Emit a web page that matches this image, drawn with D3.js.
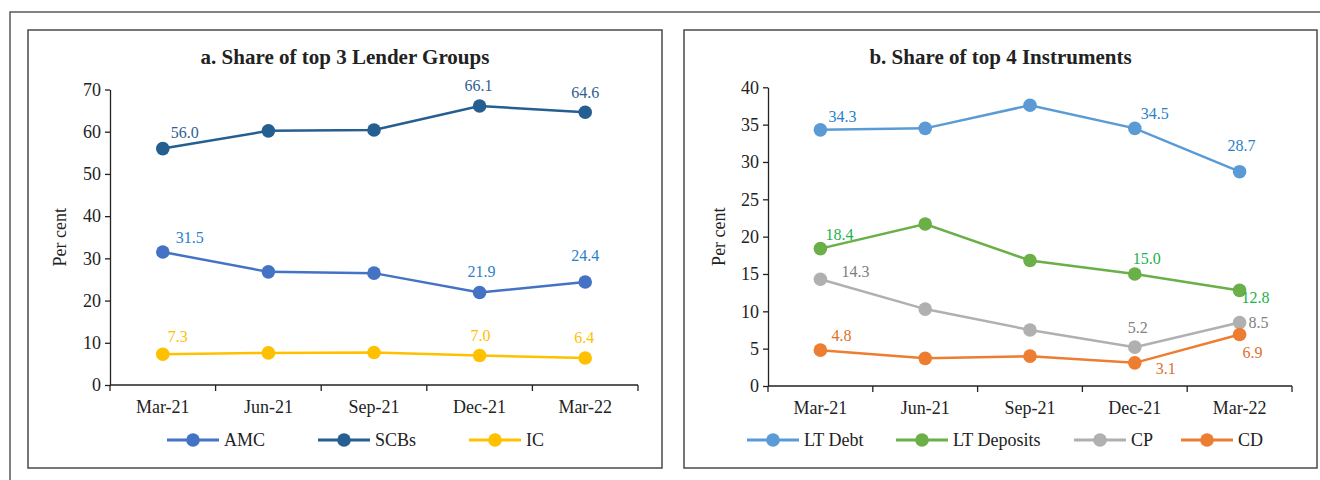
<!DOCTYPE html>
<html>
<head>
<meta charset="utf-8">
<script src="https://cdn.jsdelivr.net/npm/d3@7"></script>
<style>
  html, body { margin: 0; padding: 0; background: #fff; }
  svg { display: block; }
  text { font-family: "Liberation Serif", "Times New Roman", serif; }
</style>
</head>
<body>
<svg id="chart" width="1320" height="480"></svg>
<script>
// Quarter-end periods shared by both panels
const periods = ["Mar-21", "Jun-21", "Sep-21", "Dec-21", "Mar-22"];

// Panel a: share of top 3 lender groups (per cent)
const amc = [31.5, 26.8, 26.5, 21.9, 24.4];
const scbs = [56.0, 60.2, 60.4, 66.1, 64.6];
const ic = [7.3, 7.6, 7.7, 7.0, 6.4];
const ticksA = [0, 10, 20, 30, 40, 50, 60, 70];

// Panel b: share of top 4 instruments (per cent)
const ltDebt = [34.3, 34.5, 37.6, 34.5, 28.7];
const ltDeposits = [18.4, 21.7, 16.8, 15.0, 12.8];
const cp = [14.3, 10.3, 7.5, 5.2, 8.5];
const cd = [4.8, 3.7, 4.0, 3.1, 6.9];
const ticksB = [0, 5, 10, 15, 20, 25, 30, 35, 40];

// Points that carry a value label
const labelled = [0, 3, 4];

const svg = d3.select("#chart");

// Outer frame (runs off the right and bottom edges)
svg.append("path")
  .attr("d", "M10,480 L10,12 L1320,12")
  .attr("fill", "none").attr("stroke", "#5a5a5a").attr("stroke-width", 1.5);

function drawPanel(cfg) {
  const g = svg.append("g");

  g.append("rect")
    .attr("x", cfg.box[0]).attr("y", cfg.box[1])
    .attr("width", cfg.box[2] - cfg.box[0]).attr("height", cfg.box[3] - cfg.box[1])
    .attr("fill", "none").attr("stroke", "#4a4a4a").attr("stroke-width", 1.5);

  g.append("text")
    .attr("x", (cfg.box[0] + cfg.box[2]) / 2).attr("y", 64)
    .attr("text-anchor", "middle")
    .attr("font-size", 21).attr("font-weight", "bold").attr("fill", "#222")
    .text(cfg.title);

  const x = d3.scaleBand().domain(periods).range([cfg.left, cfg.right]).padding(0);
  const y = d3.scaleLinear().domain([0, cfg.ticks[cfg.ticks.length - 1]]).range([cfg.bottom, cfg.top]);
  const cx = d => x(d) + x.bandwidth() / 2;

  // y axis
  const ya = g.append("g").attr("transform", `translate(${cfg.left},0)`)
    .call(d3.axisLeft(y).tickValues(cfg.ticks).tickSize(5).tickPadding(4).tickSizeOuter(0));
  ya.selectAll("text").attr("font-size", 18).attr("fill", "#222")
    .attr("font-family", "'Liberation Serif', serif");
  ya.selectAll("line,path").attr("stroke", "#222").attr("stroke-width", 1.3);

  // x axis: ticks at category boundaries, labels at centres
  const xa = g.append("g").attr("transform", `translate(0,${cfg.bottom})`);
  xa.append("line").attr("x1", cfg.left).attr("x2", cfg.right)
    .attr("stroke", "#222").attr("stroke-width", 1.3);
  const edges = periods.map(p => x(p)).concat([cfg.right]);
  xa.selectAll("line.tick").data(edges).join("line").attr("class", "tick")
    .attr("x1", d => d).attr("x2", d => d).attr("y1", 0).attr("y2", 6)
    .attr("stroke", "#222").attr("stroke-width", 1.3);
  xa.selectAll("text").data(periods).join("text")
    .attr("x", d => cx(d)).attr("y", 28)
    .attr("text-anchor", "middle").attr("font-size", 18).attr("fill", "#222")
    .text(d => d);

  // y title
  g.append("text")
    .attr("transform", `translate(${cfg.yTitleX},${(cfg.top + cfg.bottom) / 2}) rotate(-90)`)
    .attr("text-anchor", "middle").attr("dominant-baseline", "central")
    .attr("font-size", 18).attr("fill", "#222")
    .text("Per cent");

  const line = d3.line().x((d, i) => cx(periods[i])).y(d => y(d));

  cfg.series.forEach(s => {
    g.append("path").datum(s.values)
      .attr("d", line).attr("fill", "none")
      .attr("stroke", s.color).attr("stroke-width", 2.5);
    g.selectAll(null).data(s.values).join("circle")
      .attr("cx", (d, i) => cx(periods[i])).attr("cy", d => y(d))
      .attr("r", 6.8).attr("fill", s.color);
    labelled.forEach((idx, k) => {
      const v = s.values[idx];
      g.append("text")
        .attr("x", cx(periods[idx]) + s.offsets[k][0])
        .attr("y", y(v) + s.offsets[k][1])
        .attr("text-anchor", "middle").attr("font-size", 16)
        .attr("fill", s.labelColor)
        .text(v.toFixed(1));
    });
  });

  // legend
  cfg.series.forEach((s, i) => {
    const lx = cfg.legendX[i];
    const ly = 440;
    g.append("line").attr("x1", lx).attr("x2", lx + 52).attr("y1", ly).attr("y2", ly)
      .attr("stroke", s.color).attr("stroke-width", 3);
    g.append("circle").attr("cx", lx + 26).attr("cy", ly).attr("r", 6.8).attr("fill", s.color);
    g.append("text").attr("x", lx + 57).attr("y", ly).attr("dominant-baseline", "central")
      .attr("font-size", 18).attr("fill", "#222").text(s.name);
  });
}

drawPanel({
  title: "a. Share of top 3 Lender Groups",
  box: [28, 30, 662, 468],
  left: 110, right: 638, top: 89.5, bottom: 385,
  ticks: ticksA, yTitleX: 60,
  legendX: [167, 318, 469],
  series: [
    { name: "AMC", values: amc, color: "#4472C4", labelColor: "#2a7fc9",
      offsets: [[27, -9], [2, -16], [0, -21]] },
    { name: "SCBs", values: scbs, color: "#255E91", labelColor: "#2f5f92",
      offsets: [[22, -11], [-1, -15], [0, -14]] },
    { name: "IC", values: ic, color: "#FFC000", labelColor: "#FFC000",
      offsets: [[15, -12], [1, -14], [-1, -15]] }
  ]
});

drawPanel({
  title: "b. Share of top 4 Instruments",
  box: [684, 30, 1317, 468],
  left: 768, right: 1292, top: 87.3, bottom: 386,
  ticks: ticksB, yTitleX: 719,
  legendX: [747, 896, 1074, 1181],
  series: [
    { name: "LT Debt", values: ltDebt, color: "#5B9BD5", labelColor: "#2a7fc9",
      offsets: [[22, -8], [20, -9], [2, -21]] },
    { name: "LT Deposits", values: ltDeposits, color: "#6AAF47", labelColor: "#22b24c",
      offsets: [[19, -9], [12, -10], [16, 13]] },
    { name: "CP", values: cp, color: "#B0B0B0", labelColor: "#808080",
      offsets: [[35, -2], [3, -14], [19, 5]] },
    { name: "CD", values: cd, color: "#ED7D31", labelColor: "#e0702c",
      offsets: [[21, -9], [31, 11], [13, 24]] }
  ]
});
</script>
</body>
</html>
